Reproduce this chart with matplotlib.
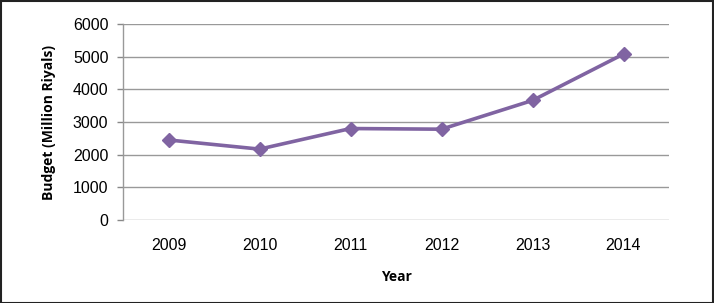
import matplotlib
matplotlib.use("Agg")
import matplotlib.pyplot as plt
from matplotlib.patches import Rectangle

years = ["2009", "2010", "2011", "2012", "2013", "2014"]
budget = [2450, 2170, 2800, 2780, 3660, 5080]
yticks = [0, 1000, 2000, 3000, 4000, 5000, 6000]

W, H = 714, 303
fig = plt.figure(figsize=(W / 100, H / 100), dpi=100)
ax = fig.add_axes([123 / W, 1 - 220 / H, (669 - 123) / W, (220 - 24) / H])

x = list(range(len(years)))
ax.plot(x, budget, color="#8064A2", lw=2.6, marker="D", ms=7.5,
        markerfacecolor="#8064A2", markeredgecolor="#8064A2", zorder=3)

ax.set_xlim(-0.5, len(years) - 0.5)
ax.set_ylim(0, 6000)
ax.set_yticks(yticks)
ax.set_yticklabels([str(v) for v in yticks], fontfamily="Liberation Sans", fontsize=11.5)
ax.set_xticks(x)
ax.set_xticklabels(years, fontfamily="Liberation Sans", fontsize=11.5)
ax.tick_params(axis="x", length=0, pad=13)
ax.tick_params(axis="y", length=4.5, color="#888888", width=1, pad=6)

ax.grid(axis="y", color="#999999", lw=1)
ax.set_axisbelow(True)
for s in ["top", "right", "bottom"]:
    ax.spines[s].set_visible(False)
ax.spines["left"].set_color("#999999")
ax.spines["left"].set_linewidth(1)

ax.set_ylabel("Budget (Million Riyals)", fontfamily="Open Sans", fontweight="bold",
              fontsize=10, labelpad=12)
fig.text(396 / W, 1 - 277 / H, "Year", fontfamily="Open Sans", fontweight="bold",
         fontsize=10, ha="center", va="center")

fig.patches.append(Rectangle((0.5 / W, 0.5 / H), 1 - 1.5 / W, 1 - 1.5 / H,
                             transform=fig.transFigure, fill=False,
                             edgecolor="#222222", lw=1.5))

fig.savefig("out.png", dpi=100)
